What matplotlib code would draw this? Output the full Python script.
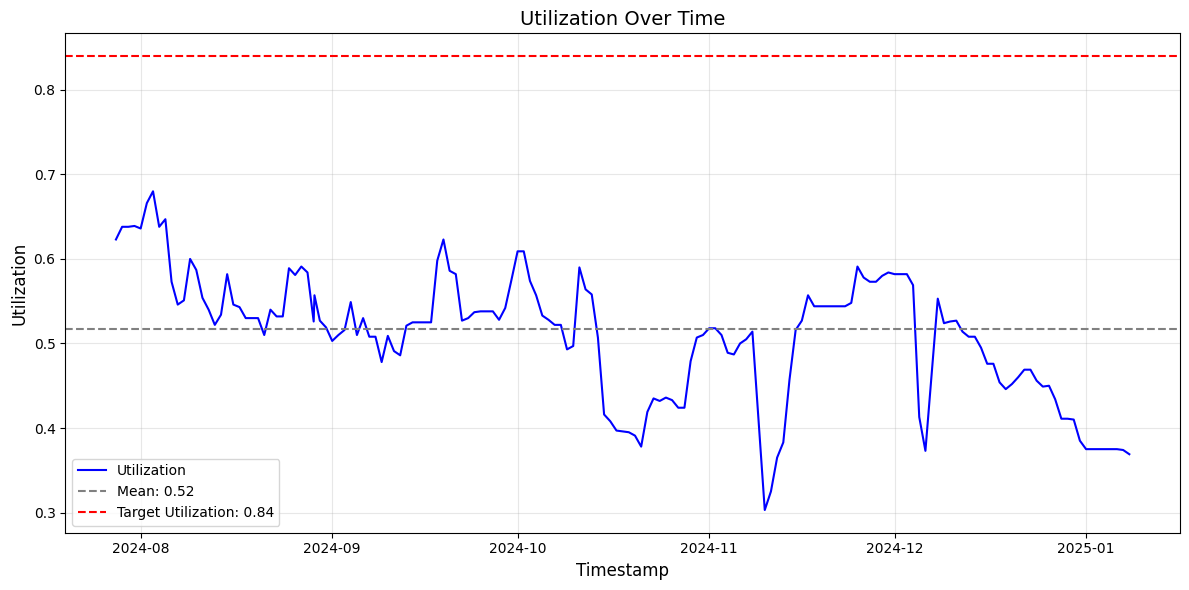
import numpy as np
import pandas as pd
import matplotlib
matplotlib.use("Agg")
import matplotlib.pyplot as plt

# readings, one per day (Nov 9 and Dec 7 missing, one extra on Aug 29)
util_jul = [0.623, 0.638, 0.638, 0.639]
util_aug = [0.636, 0.666, 0.680, 0.638, 0.647, 0.573, 0.546, 0.551, 0.600, 0.587,
            0.554, 0.540, 0.522, 0.534, 0.582, 0.546, 0.543, 0.530, 0.530, 0.530,
            0.510, 0.540, 0.532, 0.532, 0.589, 0.581, 0.591, 0.584, 0.526, 0.557,
            0.527, 0.519]
util_sep = [0.503, 0.510, 0.516, 0.549, 0.510, 0.530, 0.508, 0.508, 0.478, 0.509,
            0.491, 0.486, 0.521, 0.525, 0.525, 0.525, 0.525, 0.598, 0.623, 0.586,
            0.582, 0.527, 0.530, 0.537, 0.538, 0.538, 0.538, 0.528, 0.542, 0.575]
util_oct = [0.609, 0.609, 0.574, 0.557, 0.533, 0.528, 0.522, 0.522, 0.493, 0.497,
            0.590, 0.564, 0.558, 0.507, 0.416, 0.408, 0.397, 0.396, 0.395, 0.391,
            0.378, 0.419, 0.435, 0.432, 0.436, 0.433, 0.424, 0.424, 0.479, 0.507,
            0.510]
util_nov = [0.518, 0.518, 0.510, 0.489, 0.487, 0.500, 0.505, 0.514, 0.303, 0.325,
            0.365, 0.383, 0.457, 0.516, 0.527, 0.557, 0.544, 0.544, 0.544, 0.544,
            0.544, 0.544, 0.548, 0.591, 0.578, 0.573, 0.573, 0.580, 0.584]
util_dec = [0.582, 0.582, 0.582, 0.569, 0.413, 0.373, 0.553, 0.524, 0.526, 0.527,
            0.514, 0.508, 0.508, 0.495, 0.476, 0.476, 0.454, 0.446, 0.452, 0.460,
            0.469, 0.469, 0.456, 0.449, 0.450, 0.434, 0.411, 0.411, 0.410, 0.385]
util_jan = [0.375, 0.375, 0.375, 0.375, 0.375, 0.375, 0.374, 0.369]

missing_days = ["2024-11-09", "2024-12-07"]
extra_stamps = ["2024-08-29 03:00"]
mean_util = 0.5175   # mean line as drawn in the source (over the full series)
target_util = 0.84

daily = pd.date_range("2024-07-28", "2025-01-08", freq="D")
timestamps = daily.drop(pd.to_datetime(missing_days)).append(pd.to_datetime(extra_stamps)).sort_values()
utilization = np.array(util_jul + util_aug + util_sep + util_oct + util_nov + util_dec + util_jan)

fig, ax = plt.subplots(figsize=(12, 6), dpi=100)
ax.plot(timestamps, utilization, color='blue', linewidth=1.5, label='Utilization')
ax.axhline(mean_util, color='gray', linestyle='--', label=f'Mean: {mean_util:.2f}')
ax.axhline(target_util, color='red', linestyle='--', label=f'Target Utilization: {target_util:.2f}')
ax.set_title('Utilization Over Time', fontsize=14)
ax.set_xlabel('Timestamp', fontsize=12)
ax.set_ylabel('Utilization', fontsize=12)
ax.grid(True, alpha=0.3)
ax.legend(loc='lower left')
fig.tight_layout()
fig.savefig('out.png', bbox_inches='tight')
